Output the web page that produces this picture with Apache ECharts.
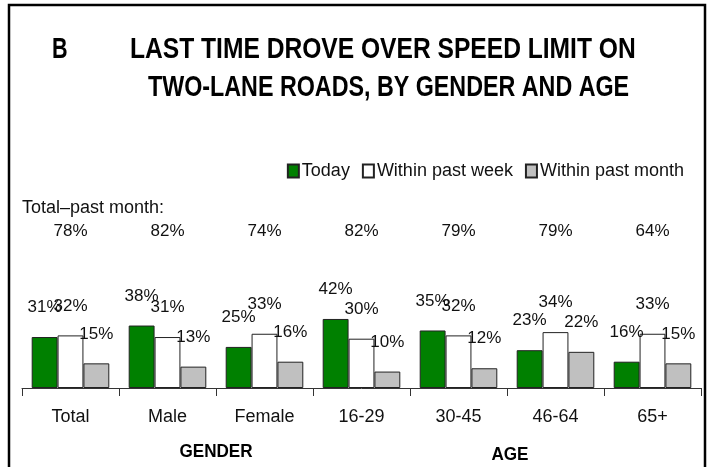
<!DOCTYPE html>
<html>
<head>
<meta charset="utf-8">
<script src="https://cdn.jsdelivr.net/npm/echarts@6/dist/echarts.min.js"></script>
<style>
  html, body { margin: 0; padding: 0; background: #fff; }
  #main { width: 711px; height: 467px; }
</style>
</head>
<body>
<div id="main"></div>
<script>
// data
var groups = ['Total', 'Male', 'Female', '16-29', '30-45', '46-64', '65+'];
var today = [31, 38, 25, 42, 35, 23, 16];
var pastWeek = [32, 31, 33, 30, 32, 34, 33];
var pastMonth = [15, 13, 16, 10, 12, 22, 15];
var totalPastMonth = ['78%', '82%', '74%', '82%', '79%', '79%', '64%'];

var FONT = '"Liberation Sans", Arial, sans-serif';

var chart = echarts.init(document.getElementById('main'));

function barSeries(name, values, color) {
  return {
    name: name,
    type: 'bar',
    data: values,
    barGap: 0,
    barCategoryGap: '20%',
    xAxisIndex: 0,
    itemStyle: { color: color, borderColor: '#222', borderWidth: 1 },
    label: {
      show: true,
      position: 'top',
      distance: 21,
      formatter: '{c}%',
      color: '#111',
      fontFamily: FONT,
      fontSize: 17
    },
    emphasis: { disabled: true }
  };
}

var option = {
  animation: false,
  legend: {
    right: 22, top: 157,
    itemWidth: 11, itemHeight: 13, itemGap: 12,
    icon: 'rect',
    textStyle: { fontFamily: FONT, fontSize: 18, color: '#111', padding: [0, 0, 0, -2] },
    data: ['Today', 'Within past week', 'Within past month']
  },
  grid: { left: 22, right: 10, top: 245, bottom: 79 },
  xAxis: [{
    type: 'category',
    data: groups,
    axisLine: { lineStyle: { color: '#333', width: 1 } },
    axisTick: { show: true, length: 8, lineStyle: { color: '#333' } },
    axisLabel: { margin: 20, color: '#111', fontFamily: FONT, fontSize: 18 }
  }, {
    type: 'category',
    position: 'top',
    data: totalPastMonth,
    axisLine: { show: false },
    axisTick: { show: false },
    axisLabel: { margin: 5, color: '#111', fontFamily: FONT, fontSize: 17 }
  }],
  yAxis: {
    type: 'value', min: 0, max: 87,
    show: false,
    splitLine: { show: false }
  },
  series: [
    barSeries('Today', today, '#008000'),
    barSeries('Within past week', pastWeek, '#ffffff'),
    barSeries('Within past month', pastMonth, '#c0c0c0')
  ],
  graphic: [{
    type: 'rect',
    shape: { x: 9, y: 5, width: 696, height: 480 },
    style: { fill: 'none', stroke: '#000', lineWidth: 2.5 },
    silent: true
  }, {
    // title, condensed to look like a narrow bold face
    type: 'text', x: 52, y: 50, scaleX: 0.72,
    style: { text: 'B', font: 'bold 30px ' + FONT, fill: '#000', textVerticalAlign: 'middle' }
  }, {
    type: 'text', x: 130, y: 50, scaleX: 0.82,
    style: { text: 'LAST TIME DROVE OVER SPEED LIMIT ON', font: 'bold 30px ' + FONT, fill: '#000', textVerticalAlign: 'middle' }
  }, {
    type: 'text', x: 148, y: 88, scaleX: 0.776,
    style: { text: 'TWO-LANE ROADS, BY GENDER AND AGE', font: 'bold 30px ' + FONT, fill: '#000', textVerticalAlign: 'middle' }
  }, {
    type: 'text', left: 22, top: 199,
    style: { text: 'Total\u2013past month:', font: '18px ' + FONT, fill: '#111' }
  }, {
    type: 'text', x: 216, y: 452, scaleX: 0.9,
    style: { text: 'GENDER', font: 'bold 19px ' + FONT, fill: '#000', textAlign: 'center', textVerticalAlign: 'middle' }
  }, {
    type: 'text', x: 510, y: 455, scaleX: 0.9,
    style: { text: 'AGE', font: 'bold 19px ' + FONT, fill: '#000', textAlign: 'center', textVerticalAlign: 'middle' }
  }]
};

chart.setOption(option);
</script>
</body>
</html>
